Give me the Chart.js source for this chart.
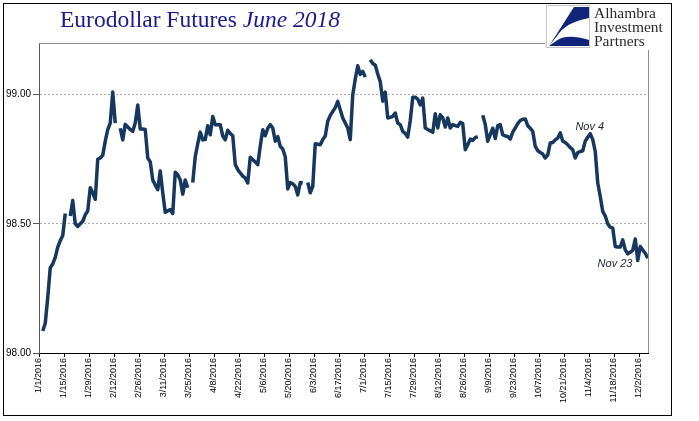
<!DOCTYPE html>
<html lang="en">
<head>
  <meta charset="UTF-8" />
  <title>Eurodollar Futures June 2018</title>
  <script src="https://cdn.jsdelivr.net/npm/chart.js@4.4.0/dist/chart.umd.min.js"></script>
  <style>
    html, body { margin: 0; padding: 0; background: #fff; }
    #chart { display: block; }
  </style>
</head>
<body>
  <canvas id="chart" width="699" height="421"></canvas>

  <script>
    // weekday index 0 = 1/1/2016, ticks every 10 weekdays
    const tickLabels = [
      '1/1/2016', '1/15/2016', '1/29/2016', '2/12/2016', '2/26/2016', '3/11/2016', '3/25/2016',
      '4/8/2016', '4/22/2016', '5/6/2016', '5/20/2016', '6/3/2016', '6/17/2016', '7/1/2016',
      '7/15/2016', '7/29/2016', '8/12/2016', '8/26/2016', '9/9/2016', '9/23/2016', '10/7/2016',
      '10/21/2016', '11/4/2016', '11/18/2016', '12/2/2016'
    ];
    const yTicks = [98.0, 98.5, 99.0];

    // June 2018 contract price, one value per weekday (null = market holiday)
    const prices = [
      null, 98.085, 98.115, 98.215, 98.33, 98.345, 98.37, 98.41, 98.435, 98.455,
      98.54, null, 98.53, 98.59, 98.50, 98.49, 98.50, 98.51, 98.535, 98.55,
      98.64, 98.62, 98.595, 98.75, 98.755, 98.765, 98.82, 98.865, 98.89, 99.01,
      98.89, null, 98.87, 98.825, 98.885, 98.875, 98.865, 98.858, 98.89, 98.96,
      98.867, 98.867, 98.865, 98.755, 98.74, 98.67, 98.65, 98.632, 98.705, 98.62,
      98.545, 98.55, 98.555, 98.54, 98.70, 98.69, 98.67, 98.615, 98.67, 98.64,
      null, 98.66, 98.76, 98.81, 98.855, 98.825, 98.826, 98.88, 98.845, 98.916,
      98.884, 98.884, 98.884, 98.84, 98.825, 98.862, 98.85, 98.841, 98.73, 98.71,
      98.697, 98.685, 98.677, 98.658, 98.758, 98.748, 98.74, 98.729, 98.80, 98.864,
      98.841, 98.87, 98.884, 98.871, 98.82, 98.838, 98.80, 98.79, 98.76, 98.635,
      98.66, 98.655, 98.645, 98.612, 98.66, 98.658, null, 98.66, 98.62, 98.645,
      98.81, 98.808, 98.806, 98.826, 98.84, 98.897, 98.92, 98.935, 98.95, 98.974,
      98.942, 98.91, 98.89, 98.871, 98.826, 99.00, 99.06, 99.112, 99.078, 99.09,
      99.068, null, 99.135, 99.12, 99.115, 99.08, 99.05, 98.975, 99.01, 98.91,
      98.912, 98.916, 98.929, 98.89, 98.884, 98.858, 98.85, 98.836, 98.90, 98.99,
      98.99, 98.983, 98.96, 98.987, 98.871, 98.865, 98.86, 98.854, 98.926, 98.871,
      98.922, 98.91, 98.875, 98.91, 98.871, 98.884, 98.88, 98.877, 98.893, 98.888,
      98.787, 98.806, 98.828, 98.823, 98.834, 98.838, null, 98.92, 98.885, 98.82,
      98.845, 98.87, 98.83, 98.88, 98.884, 98.845, 98.84, 98.838, 98.828, 98.855,
      98.871, 98.888, 98.90, 98.905, 98.906, 98.88, 98.87, 98.858, 98.80, 98.783,
      98.776, 98.77, 98.755, 98.767, 98.813, 98.815, 98.825, 98.832, 98.852, 98.82,
      98.815, 98.806, 98.795, 98.787, 98.755, 98.776, 98.78, 98.783, 98.82, 98.835,
      98.849, 98.826, 98.78, 98.658, 98.606, 98.548, 98.53, 98.50, 98.487, 98.483,
      98.412, 98.41, 98.41, 98.438, 98.399, 98.384, 98.39, 98.397, 98.441, 98.358,
      98.412, 98.399, 98.386, 98.367
    ];

    // callouts: [text, weekday index, price]
    const notes = [
      ['Nov 4', 220.3, 98.864],
      ['Nov 23', 230.4, 98.331]
    ];

    const points = prices.map((v, i) => ({ x: i + 0.5, y: v }));

    const decor = {
      id: 'decor',
      beforeDraw(chart) {
        const c = chart.ctx;
        c.save();
        c.fillStyle = '#fff';
        c.fillRect(0, 0, chart.width, chart.height);
        c.strokeStyle = '#000';
        c.lineWidth = 1;
        c.strokeRect(3.5, 3.5, 668, 412);
        c.restore();
      },
      beforeDatasetsDraw(chart) {
        const a = chart.chartArea, c = chart.ctx;
        c.save();
        c.strokeStyle = '#8c8c8c';
        c.lineWidth = 1;
        c.beginPath();
        c.moveTo(a.left, a.top + 0.5);
        c.lineTo(a.right + 0.5, a.top + 0.5);
        c.lineTo(a.right + 0.5, a.bottom);
        c.stroke();
        c.restore();
      },
      afterDraw(chart) {
        const c = chart.ctx;
        const xs = chart.scales.x, ys = chart.scales.y;
        c.save();

        // title
        c.textBaseline = 'alphabetic';
        c.fillStyle = '#1a1a8c';
        c.font = '23.5px "Liberation Serif"';
        c.fillText('Eurodollar Futures ', 60, 27);
        const w = c.measureText('Eurodollar Futures ').width;
        c.font = 'italic 23.5px "Liberation Serif"';
        c.fillText('June 2018', 60 + w, 27);

        // logo
        c.fillStyle = '#fff';
        c.fillRect(545, 5, 124, 45);
        c.strokeStyle = '#c4c4c4';
        c.strokeRect(546.5, 5.5, 43, 42);
        c.fillStyle = '#12237a';
        c.beginPath();
        c.moveTo(574, 7);
        c.lineTo(589, 7);
        c.lineTo(589, 18);
        c.quadraticCurveTo(566, 22, 557, 36);
        c.lineTo(549, 46);
        c.closePath();
        c.fill();
        c.beginPath();
        c.moveTo(549, 46);
        c.lineTo(589, 46);
        c.lineTo(589, 40);
        c.quadraticCurveTo(566, 33, 556, 41);
        c.closePath();
        c.fill();
        c.fillStyle = '#2b2b2b';
        c.font = '15.5px "Liberation Serif"';
        c.fillText('Alhambra', 594, 18);
        c.fillText('Investment', 594, 32);
        c.fillText('Partners', 594, 45.5);

        // callouts
        c.fillStyle = '#1c2233';
        c.font = 'italic 11px "Liberation Sans"';
        c.textAlign = 'center';
        notes.forEach(([t, x, y]) => c.fillText(t, xs.getPixelForValue(x), ys.getPixelForValue(y)));
        c.restore();
      }
    };

    new Chart(document.getElementById('chart'), {
      type: 'line',
      data: {
        datasets: [{
          data: points,
          borderColor: '#17375e',
          borderWidth: 3.5,
          borderJoinStyle: 'round',
          pointRadius: 0,
          tension: 0,
          spanGaps: false
        }]
      },
      options: {
        responsive: false,
        animation: false,
        devicePixelRatio: 1,
        layout: { padding: { top: 43, right: 51, bottom: 0, left: 0 } },
        plugins: { legend: { display: false }, tooltip: { enabled: false } },
        scales: {
          x: {
            type: 'linear',
            min: 0,
            max: 243.6,
            afterBuildTicks: s => { s.ticks = tickLabels.map((_, k) => ({ value: k * 10 })); },
            afterFit: s => { s.height = 68; },
            grid: { drawOnChartArea: false, tickLength: 4, tickColor: '#000' },
            border: { color: '#000' },
            ticks: {
              autoSkip: false,
              minRotation: 90,
              maxRotation: 90,
              padding: 1,
              color: '#000',
              font: { family: 'Liberation Sans', size: 9 },
              callback: (v, k) => tickLabels[k]
            }
          },
          y: {
            min: 98,
            max: 99.2,
            afterBuildTicks: s => { s.ticks = yTicks.map(v => ({ value: v })); },
            afterFit: s => { s.width = 39; },
            grid: {
              color: ctx => (ctx.tick && ctx.tick.value === 98 ? 'rgba(0,0,0,0)' : '#a8a8a8'),
              tickLength: 6,
              tickColor: '#555'
            },
            border: { color: '#555', dash: [2, 2] },
            ticks: {
              padding: 2,
              color: '#000',
              font: { family: 'Liberation Sans', size: 10 },
              callback: v => v.toFixed(2)
            }
          }
        }
      },
      plugins: [decor]
    });
  </script>
</body>
</html>
